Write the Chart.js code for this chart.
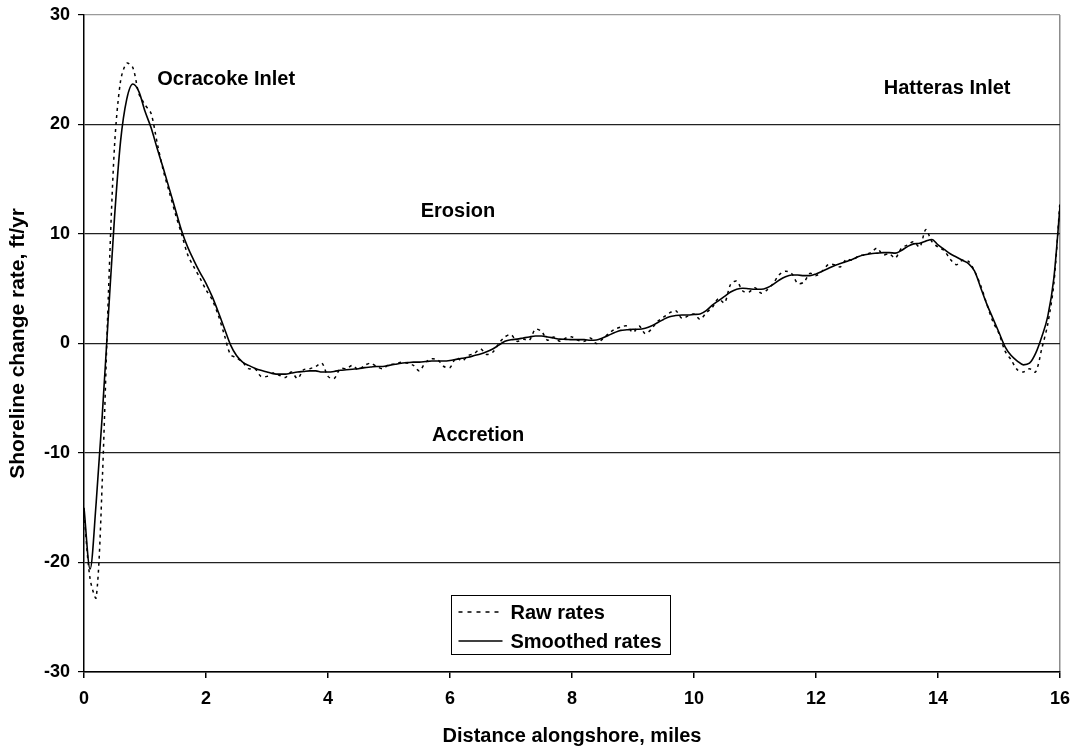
<!DOCTYPE html>
<html>
<head>
<meta charset="utf-8">
<script src="https://cdn.jsdelivr.net/npm/chart.js@4.4.1/dist/chart.umd.min.js"></script>
<style>
html,body{margin:0;padding:0;background:#fff;}
#wrap{width:1075px;height:748px;}
</style>
</head>
<body>
<div id="wrap"><canvas id="c" width="1075" height="748"></canvas></div>
<script>
// Distance alongshore (miles)
const distances = [
0.0,0.1,0.2,0.3,0.4,0.5,0.6,0.7,0.8,0.9,
1.0,1.1,1.2,1.3,1.4,1.5,1.6,1.7,1.8,1.9,
2.0,2.1,2.2,2.3,2.4,2.5,2.6,2.7,2.8,2.9,
3.0,3.1,3.2,3.3,3.4,3.5,3.6,3.7,3.8,3.9,
4.0,4.1,4.2,4.3,4.4,4.5,4.6,4.7,4.8,4.9,
5.0,5.1,5.2,5.3,5.4,5.5,5.6,5.7,5.8,5.9,
6.0,6.1,6.2,6.3,6.4,6.5,6.6,6.7,6.8,6.9,
7.0,7.1,7.2,7.3,7.4,7.5,7.6,7.7,7.8,7.9,
8.0,8.1,8.2,8.3,8.4,8.5,8.6,8.7,8.8,8.9,
9.0,9.1,9.2,9.3,9.4,9.5,9.6,9.7,9.8,9.9,
10.0,10.1,10.2,10.3,10.4,10.5,10.6,10.7,10.8,10.9,
11.0,11.1,11.2,11.3,11.4,11.5,11.6,11.7,11.8,11.9,
12.0,12.1,12.2,12.3,12.4,12.5,12.6,12.7,12.8,12.9,
13.0,13.1,13.2,13.3,13.4,13.5,13.6,13.7,13.8,13.9,
14.0,14.1,14.2,14.3,14.4,14.5,14.6,14.7,14.8,14.9,
15.0,15.1,15.2,15.3,15.4,15.5,15.6,15.7,15.8,15.9,
16.0];

// Raw shoreline change rates (ft/yr)
const rawRates = [
-15.5,-21.5,-23.2,-12.5,4.5,18.0,24.0,25.6,25.2,22.8,
21.8,21.0,18.3,15.8,13.8,11.8,10.0,8.1,7.0,6.0,
4.9,4.0,2.6,0.8,-1.0,-1.3,-1.7,-2.3,-2.3,-3.0,
-3.0,-2.7,-2.9,-3.1,-2.6,-3.2,-2.4,-2.3,-2.1,-1.8,
-3.0,-3.2,-2.3,-2.3,-2.0,-2.4,-2.0,-1.8,-2.1,-2.3,
-1.9,-1.9,-1.7,-1.8,-2.0,-2.5,-1.7,-1.4,-1.5,-2.1,
-2.2,-1.3,-1.6,-1.1,-0.9,-0.5,-1.0,-0.8,0.0,0.6,
0.8,0.2,0.4,0.3,1.3,1.1,0.3,0.6,0.2,0.5,
0.6,0.3,0.2,0.5,0.0,0.4,0.9,1.3,1.5,1.6,
1.0,1.6,0.9,1.3,2.0,2.4,2.8,3.0,2.3,2.5,
2.7,2.2,2.8,3.3,4.1,3.7,5.4,5.7,4.8,4.7,
5.1,4.6,4.9,5.5,6.3,6.6,6.4,5.5,5.6,6.4,
6.2,6.6,7.2,7.2,7.0,7.7,7.6,8.0,8.1,8.3,
8.7,8.1,8.2,7.8,8.7,9.0,9.3,8.8,10.4,9.3,
8.8,8.5,7.7,7.2,7.6,7.5,6.6,5.3,3.6,2.0,
0.9,-0.7,-1.5,-2.4,-2.6,-2.3,-2.6,-0.5,1.8,5.5,
13.0];

// Smoothed shoreline change rates (ft/yr)
const smoothedRates = [
-15.0,-20.6,-14.5,-6.5,2.6,11.5,18.5,22.3,23.7,23.0,
21.2,19.7,17.8,16.0,14.1,12.2,10.3,8.8,7.6,6.5,
5.5,4.3,2.9,1.4,-0.1,-1.1,-1.7,-2.0,-2.25,-2.45,
-2.6,-2.75,-2.8,-2.8,-2.7,-2.6,-2.55,-2.5,-2.5,-2.6,
-2.6,-2.55,-2.45,-2.4,-2.35,-2.3,-2.2,-2.15,-2.1,-2.1,
-2.0,-1.9,-1.8,-1.75,-1.7,-1.7,-1.65,-1.6,-1.6,-1.6,
-1.55,-1.45,-1.35,-1.25,-1.1,-0.95,-0.75,-0.5,-0.15,0.2,
0.35,0.4,0.5,0.6,0.68,0.68,0.6,0.5,0.4,0.38,
0.35,0.35,0.35,0.3,0.32,0.5,0.75,1.0,1.2,1.25,
1.3,1.3,1.4,1.6,1.9,2.2,2.45,2.55,2.6,2.6,
2.65,2.7,3.0,3.5,3.9,4.3,4.7,4.95,5.05,5.0,
4.95,4.95,5.1,5.4,5.8,6.1,6.25,6.25,6.2,6.2,
6.35,6.6,6.85,7.1,7.3,7.5,7.7,7.95,8.1,8.2,
8.25,8.3,8.3,8.25,8.5,8.85,9.1,9.15,9.35,9.5,
9.0,8.6,8.2,7.9,7.6,7.3,6.6,5.1,3.6,2.3,
1.0,-0.3,-1.1,-1.6,-1.95,-1.8,-0.9,0.6,2.5,6.0,
12.5];

const xTicks = [0,2,4,6,8,10,12,14,16];
const yTicks = [-30,-20,-10,0,10,20,30];
const seriesNames = ['Raw rates','Smoothed rates'];
const annotationTexts = ['Ocracoke Inlet','Hatteras Inlet','Erosion','Accretion'];
const annotationAt = [[2.33,24.1],[14.15,23.3],[6.13,12.1],[6.46,-8.4]];

const FONT = "'Liberation Sans', Arial, Helvetica, sans-serif";

const toPoints = (xs, ys) => xs.map((x, i) => ({x: x, y: ys[i]}));

const textPlugin = {
  id: 'textAndLegend',
  afterDraw(chart) {
    const ctx = chart.ctx;
    const xs = chart.scales.x, ys = chart.scales.y;
    const ca = chart.chartArea;
    ctx.save();
    ctx.fillStyle = '#000';
    ctx.font = 'bold 20px ' + FONT;
    ctx.textAlign = 'center';
    ctx.textBaseline = 'middle';
    annotationTexts.forEach((t, i) => {
      ctx.fillText(t, xs.getPixelForValue(annotationAt[i][0]), ys.getPixelForValue(annotationAt[i][1]));
    });
    // legend
    const bx = ca.left + 367.5, by = 595.5, bw = 219, bh = 59;
    ctx.fillStyle = '#fff';
    ctx.fillRect(bx, by, bw, bh);
    ctx.strokeStyle = '#000';
    ctx.lineWidth = 1;
    ctx.setLineDash([]);
    ctx.strokeRect(bx, by, bw, bh);
    chart.data.datasets.forEach((ds, i) => {
      const yy = by + 16.5 + i * 29;
      ctx.beginPath();
      ctx.strokeStyle = ds.borderColor;
      ctx.lineWidth = 1.5;
      ctx.setLineDash(i === 0 ? [4, 5] : []);
      ctx.moveTo(bx + 7, yy);
      ctx.lineTo(bx + 51, yy);
      ctx.stroke();
      ctx.setLineDash([]);
      ctx.fillStyle = '#000';
      ctx.font = 'bold 20px ' + FONT;
      ctx.textAlign = 'left';
      ctx.textBaseline = 'middle';
      ctx.fillText(ds.label, bx + 59, yy + 1);
    });
    ctx.restore();
  }
};

new Chart(document.getElementById('c'), {
  type: 'line',
  data: {
    datasets: [
      {
        label: seriesNames[0],
        data: toPoints(distances, rawRates),
        borderColor: '#000',
        borderWidth: 1.5,
        borderDash: [3, 4],
        pointRadius: 0,
        tension: 0.3,
        fill: false
      },
      {
        label: seriesNames[1],
        data: toPoints(distances, smoothedRates),
        borderColor: '#000',
        borderWidth: 1.6,
        pointRadius: 0,
        cubicInterpolationMode: 'monotone',
        fill: false
      }
    ]
  },
  options: {
    responsive: false,
    animation: false,
    devicePixelRatio: 1,
    layout: { autoPadding: false, padding: { left: 0, right: 15, top: 15, bottom: 0 } },
    plugins: { legend: { display: false }, tooltip: { enabled: false } },
    scales: {
      x: {
        type: 'linear',
        min: 0, max: 16,
        afterBuildTicks: (s) => { s.ticks = xTicks.map(v => ({value: v})); },
        afterFit: (s) => { s.height = 76; s.paddingLeft = 0; s.paddingRight = 0; },
        border: { color: '#000', width: 1.5 },
        grid: {
          drawOnChartArea: true,
          color: (c) => (c.tick && c.tick.value === 16) ? '#8c8c8c' : 'rgba(0,0,0,0)',
          tickColor: '#000',
          tickLength: 6,
          lineWidth: 1.5
        },
        ticks: {
          color: '#000',
          font: { family: FONT, size: 18, weight: 'bold' },
          padding: 10,
          maxRotation: 0
        },
        title: {
          display: true,
          text: 'Distance alongshore, miles',
          color: '#000',
          font: { family: FONT, size: 20, weight: 'bold', lineHeight: 1.2 },
          padding: { top: 0, bottom: 0 }
        }
      },
      y: {
        type: 'linear',
        min: -30, max: 30,
        afterBuildTicks: (s) => { s.ticks = yTicks.map(v => ({value: v})); },
        afterFit: (s) => { s.width = 84; s.paddingTop = 0; s.paddingBottom = 0; },
        border: { color: '#000', width: 1.5 },
        grid: {
          color: (c) => (c.tick && c.tick.value === 30) ? '#9a9a9a' : '#222',
          tickColor: '#000',
          tickLength: 6,
          lineWidth: 1.2
        },
        ticks: {
          color: '#000',
          font: { family: FONT, size: 18, weight: 'bold' },
          padding: 8
        },
        title: {
          display: true,
          text: 'Shoreline change rate, ft/yr',
          color: '#000',
          font: { family: FONT, size: 21, weight: 'bold', lineHeight: 1.2 },
          padding: { top: 6, bottom: 0 }
        }
      }
    }
  },
  plugins: [textPlugin]
});
</script>
</body>
</html>
